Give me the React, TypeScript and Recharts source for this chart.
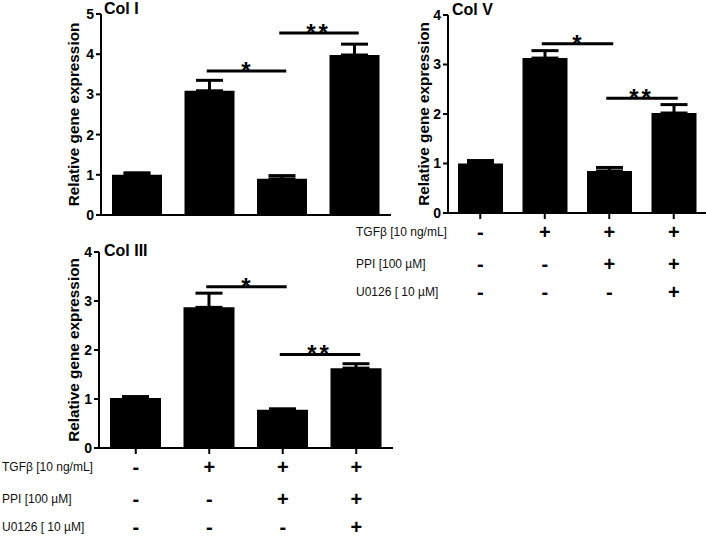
import React from 'react';
import { BarChart, Bar, XAxis, YAxis, ErrorBar, ReferenceLine } from 'recharts';

// treatment groups (x categories)
const groups = ['ctrl', 'tgf', 'tgfPpi', 'tgfPpiU0126'];

// treatment table rows
const rowLabels = ['TGFβ [10 ng/mL]', 'PPI [100 µM]', 'U0126 [ 10 µM]'];
const tgfRow = ['-', '+', '+', '+'];
const ppiRow = ['-', '-', '+', '+'];
const u0126Row = ['-', '-', '-', '+'];
const tableRows = [tgfRow, ppiRow, u0126Row];

// Col I
const colIMean = [1.0, 3.09, 0.9, 3.98];
const colISem = [0.05, 0.26, 0.08, 0.27];
const colITicks = [0, 1, 2, 3, 4, 5];
const colISig = [
  { from: 'tgf', to: 'tgfPpi', y: 3.58, mark: '*' },
  { from: 'tgfPpi', to: 'tgfPpiU0126', y: 4.53, mark: '**' },
];

// Col V
const colVMean = [1.0, 3.13, 0.85, 2.02];
const colVSem = [0.06, 0.15, 0.07, 0.17];
const colVTicks = [0, 1, 2, 3, 4];
const colVSig = [
  { from: 'tgf', to: 'tgfPpi', y: 3.42, mark: '*' },
  { from: 'tgfPpi', to: 'tgfPpiU0126', y: 2.32, mark: '**' },
];

// Col III
const colIIIMean = [1.02, 2.87, 0.78, 1.63];
const colIIISem = [0.03, 0.29, 0.02, 0.09];
const colIIITicks = [0, 1, 2, 3, 4];
const colIIISig = [
  { from: 'tgf', to: 'tgfPpi', y: 3.29, mark: '*' },
  { from: 'tgfPpi', to: 'tgfPpiU0126', y: 1.91, mark: '**' },
];

const FONT = '"Liberation Sans", Arial, sans-serif';
const ROW_OFFSETS = [19, 51, 79]; // below the x axis line

type Sig = { from: string; to: string; y: number; mark: string };

function buildData(mean: number[], sem: number[]) {
  return groups.map((g, i) => ({ group: g, mean: mean[i], err: [0, sem[i]] }));
}

function TreatmentTick(props: any) {
  const { x, y, payload, labelX } = props;
  const i = props.index ?? groups.indexOf(payload.value);
  const base = y - 8;
  return (
    <g>
      {tableRows.map((row, r) => (
        <text key={r} x={x} y={base + ROW_OFFSETS[r]} textAnchor="middle" dominantBaseline="central"
          fontSize={20} fontWeight="bold" fill="#000">
          {row[i]}
        </text>
      ))}
      {i === 0 &&
        rowLabels.map((label, r) => (
          <text key={'l' + r} x={labelX} y={base + ROW_OFFSETS[r]} dominantBaseline="central"
            fontSize={12} fill="#111">
            {label}
          </text>
        ))}
    </g>
  );
}

// significance bar, drawn a little past the bar centres
function SigLine(props: any) {
  const { x1, y1, x2, y2 } = props;
  if (x1 == null) return null;
  return <line x1={x1 - 3} y1={y1} x2={x2 + 4} y2={y2} stroke="#000" strokeWidth={3} />;
}

type PanelProps = {
  mean: number[];
  sem: number[];
  ticks: number[];
  sig: Sig[];
  width: number;
  height: number;
  margin: { top: number; right: number; left: number; bottom: number };
  yWidth: number;
  xHeight: number;
  barSize: number;
  table?: boolean;
  labelX?: number;
};

function Panel(p: PanelProps) {
  const data = buildData(p.mean, p.sem);
  const max = p.ticks[p.ticks.length - 1];
  return (
    <BarChart width={p.width} height={p.height} data={data} margin={p.margin} barSize={p.barSize}>
      <XAxis
        dataKey="group"
        height={p.xHeight}
        axisLine={{ stroke: '#000', strokeWidth: 2 }}
        tickLine={{ stroke: '#000', strokeWidth: 2 }}
        tickSize={6}
        tickMargin={2}
        interval={0}
        tick={p.table ? (t: any) => <TreatmentTick {...t} labelX={p.labelX} /> : false}
      />
      <YAxis
        type="number"
        domain={[0, max]}
        ticks={p.ticks}
        interval={0}
        width={p.yWidth}
        axisLine={{ stroke: '#000', strokeWidth: 2 }}
        tickLine={{ stroke: '#000', strokeWidth: 2 }}
        tickSize={5}
        tick={{ fill: '#000', fontSize: 14, fontWeight: 'bold' }}
        label={{
          value: 'Relative gene expression',
          angle: -90,
          position: 'center',
          fontSize: 15.3,
          fontWeight: 'bold',
          fill: '#000',
        }}
      />
      <Bar dataKey="mean" fill="#000" isAnimationActive={false}>
        <ErrorBar dataKey="err" width={13.5} strokeWidth={3} stroke="#000" direction="y" isAnimationActive={false} />
      </Bar>
      {p.sig.map((s, k) => (
        <ReferenceLine
          key={k}
          segment={[{ x: s.from, y: s.y }, { x: s.to, y: s.y }]}
          stroke="#000"
          strokeWidth={3}
          shape={SigLine}
          label={{
            value: s.mark,
            position: 'top',
            offset: -8,
            fontSize: 24,
            fontWeight: 'bold',
            fill: '#000',
            letterSpacing: s.mark.length > 1 ? 3 : 0,
          }}
        />
      ))}
    </BarChart>
  );
}

const titleStyle: React.CSSProperties = {
  position: 'absolute',
  fontSize: 16,
  fontWeight: 'bold',
  lineHeight: '16px',
  color: '#000',
  whiteSpace: 'nowrap',
};

export default function App() {
  return (
    <div style={{ position: 'absolute', left: 0, top: 0, width: 706, height: 541, background: '#fff', fontFamily: FONT, overflow: 'hidden' }}>
      <div style={{ position: 'absolute', left: 0, top: 0 }}>
        <Panel mean={colIMean} sem={colISem} ticks={colITicks} sig={colISig}
          width={400} height={230} margin={{ top: 14, right: 9, left: 47, bottom: 0 }}
          yWidth={54} xHeight={15} barSize={50} />
      </div>
      <div style={{ position: 'absolute', left: 340, top: 0 }}>
        <Panel mean={colVMean} sem={colVSem} ticks={colVTicks} sig={colVSig}
          width={366} height={310} margin={{ top: 15, right: 0, left: 60, bottom: 0 }}
          yWidth={48} xHeight={97} barSize={45} table labelX={16} />
      </div>
      <div style={{ position: 'absolute', left: 0, top: 230 }}>
        <Panel mean={colIIIMean} sem={colIIISem} ticks={colIIITicks} sig={colIIISig}
          width={400} height={311} margin={{ top: 22, right: 7, left: 49, bottom: 0 }}
          yWidth={50} xHeight={93} barSize={51} table labelX={2} />
      </div>
      <div style={{ ...titleStyle, left: 104, top: 0.5 }}>Col I</div>
      <div style={{ ...titleStyle, left: 452, top: 1.5 }}>Col V</div>
      <div style={{ ...titleStyle, left: 104, top: 243 }}>Col III</div>
    </div>
  );
}
